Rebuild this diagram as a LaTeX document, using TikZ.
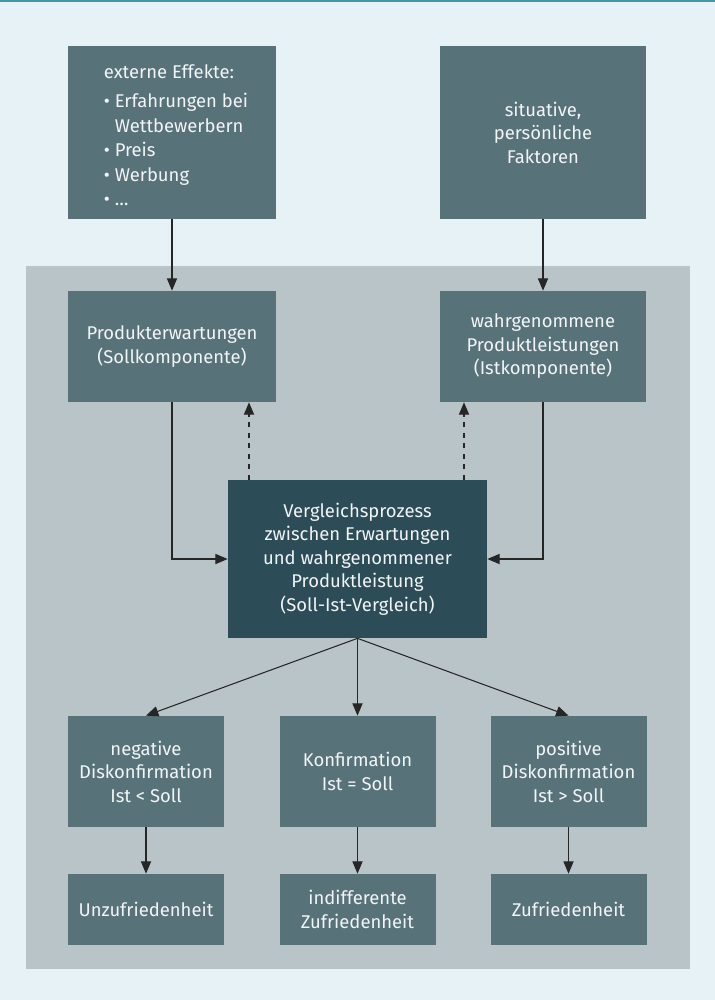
\documentclass[tikz,border=0pt]{standalone}
\usepackage{fontspec}
\setmainfont{Fira Sans}
\usepackage{tikz}
\usetikzlibrary{arrows}

\definecolor{bgblue}{HTML}{E6F2F5}
\definecolor{topline}{HTML}{3F98A8}
\definecolor{panelgray}{HTML}{B9C4C9}
\definecolor{boxgray}{HTML}{587279}
\definecolor{boxdark}{HTML}{2C4C57}
\definecolor{boxtext}{HTML}{F2F5F6}

\begin{document}
\begin{tikzpicture}[
		    x=0.02cm, y=-0.02cm,
		    box/.style 2 args={
		        fill=boxgray, text=boxtext, align=center, inner sep=0pt,
		        minimum width=#1*0.02cm, minimum height=#2*0.02cm,
		        font=\fontsize{10.5pt}{13.4pt}\selectfont
		    },
		    arr/.style={-triangle 45, line width=0.6pt, black!85}
		]
		% background and panel
		\useasboundingbox (0,0) rectangle (715,1000);
		\fill[bgblue] (0,0) rectangle (715,1000);
		\fill[topline] (0,0) rectangle (715,2);
		\fill[panelgray] (26,266) rectangle (690,969);
		% boxes
		\node[box={208}{173}] (Externe) at (172,132.5) {};
		\node[text=boxtext, inner sep=0pt, font=\fontsize{10.5pt}{13.4pt}\selectfont] (ExterneText) at (176,137.5) {\begin{tabular}{@{}l@{}}externe Effekte:\\[3pt] • Erfahrungen bei\\[0.6pt] \hphantom{• }Wettbewerbern\\[0.6pt] • Preis\\[0.6pt] • Werbung\\[0.6pt] • …\end{tabular}};
		\node[box={206}{173}] (Situativ) at (543,132.5) {situative,\\persönliche\\Faktoren};
		\node[box={208}{111}] (Soll) at (172,346.5) {Produkterwartungen\\(Sollkomponente)};
		\node[box={206}{111}] (Ist) at (543,346.5) {wahrgenommene\\Produktleistungen\\(Istkomponente)};
		\node[box={259}{158}, fill=boxdark] (Vergleich) at (357.5,559) {Vergleichsprozess\\zwischen Erwartungen\\und wahrgenommener\\Produktleistung\\(Soll-Ist-Vergleich)};
		\node[box={156}{111}] (Negativ) at (146,771.5) {negative\\Diskonfirmation\\Ist < Soll};
		\node[box={156}{111}] (Konf) at (357.5,771.5) {Konfirmation\\Ist = Soll};
		\node[box={156}{111}] (Positiv) at (568.5,771.5) {positive\\Diskonfirmation\\Ist > Soll};
		\node[box={156}{71}] (Unzufrieden) at (146,909.5) {Unzufriedenheit};
		\node[box={156}{71}] (Indifferent) at (357.5,909.5) {indifferente\\Zufriedenheit};
		\node[box={156}{71}] (Zufrieden) at (568.5,909.5) {Zufriedenheit};
		% connectors
		\coordinate (FeedSoll) at (249,480);
		\coordinate (FeedIst) at (464,480);
		\draw[arr] (Externe) -- (Soll);
		\draw[arr] (Situativ) -- (Ist);
		\draw[arr] (Soll.south) |- (Vergleich.west);
		\draw[arr] (Ist.south) |- (Vergleich.east);
		\draw[arr, dashed] (FeedSoll) -- (FeedSoll |- Soll.south);
		\draw[arr, dashed] (FeedIst) -- (FeedIst |- Ist.south);
		\draw[arr] (Vergleich.south) -- (Negativ.north);
		\draw[arr] (Vergleich.south) -- (Konf.north);
		\draw[arr] (Vergleich.south) -- (Positiv.north);
		\draw[arr] (Negativ) -- (Unzufrieden);
		\draw[arr] (Konf) -- (Indifferent);
		\draw[arr] (Positiv) -- (Zufrieden);
	\end{tikzpicture}
\end{document}
